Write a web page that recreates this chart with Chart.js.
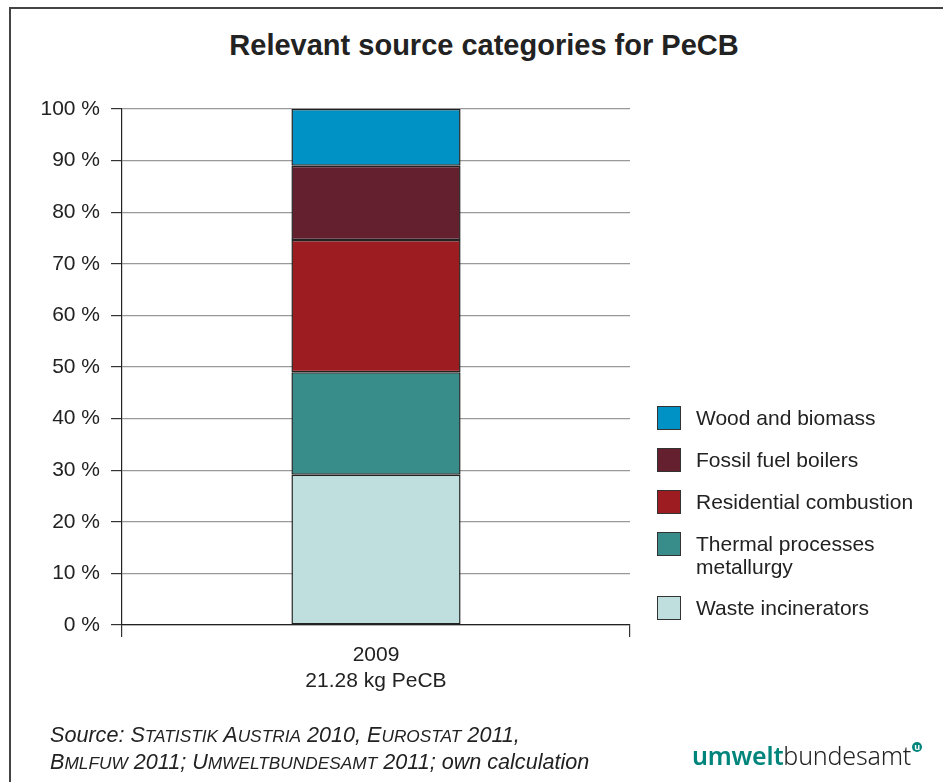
<!DOCTYPE html>
<html>
<head>
<meta charset="utf-8">
<title>Relevant source categories for PeCB</title>
<script src="https://cdn.jsdelivr.net/npm/chart.js"></script>
<style>
  html, body { margin: 0; padding: 0; background: #fff; }
  #wrap { position: relative; width: 943px; height: 782px; overflow: hidden; font-family: "Liberation Sans", Arial, sans-serif; color: #222; }
  #frame { position: absolute; left: 9px; top: 7px; width: 1200px; height: 1200px; border-left: 2px solid #444; border-top: 2px solid #444; }
  #title { position: absolute; left: 0; width: 968px; top: 29px; text-align: center; font-weight: bold; font-size: 29px; }
  canvas { position: absolute; left: 0; top: 0; }
  #legend { position: absolute; left: 657px; top: 406px; font-size: 21px; line-height: 23px; }
  .item { display: flex; align-items: flex-start; margin-bottom: 18px; }
  .box { width: 22px; height: 22px; border: 1px solid #333; margin-right: 15px; flex: none; }
  .txt { white-space: pre-line; }
  #source { position: absolute; left: 50px; top: 722px; font-size: 21.6px; line-height: 26px; font-style: italic; }
  #source small { font-size: 0.8em; }
  #logo { position: absolute; left: 692px; top: 738px; font-family: "Noto Sans", sans-serif; font-size: 25px; letter-spacing: -0.2px; }
  #logo .u1 { color: #00857c; font-weight: 600; }
  #logo .u2 { color: #222; font-weight: 300; }
  #logo .mark { display: inline-block; width: 10px; height: 10px; background: #00857c; border-radius: 50%; vertical-align: 15px; margin-left: 1px; color: #fff; font-size: 9px; line-height: 9px; text-align: center; font-weight: bold; }
</style>
</head>
<body>
<div id="wrap">
  <div id="frame"></div>
  <div id="title">Relevant source categories for PeCB</div>
  <canvas id="pecbChart" width="943" height="782"></canvas>
  <div id="legend"></div>
  <div id="source">Source: S<small>TATISTIK</small> A<small>USTRIA</small> 2010, E<small>UROSTAT</small> 2011,<br>B<small>MLFUW</small> 2011; U<small>MWELTBUNDESAMT</small> 2011; own calculation</div>
  <div id="logo"><span class="u1">umwelt</span><span class="u2">bundesamt</span><span class="mark">u</span></div>
</div>
<script>
// one stacked column, shares in percent (bottom to top)
const years = ['2009'];
const totalLabel = '21.28 kg PeCB';
const sources = ['Waste incinerators', 'Thermal processes\nmetallurgy', 'Residential combustion', 'Fossil fuel boilers', 'Wood and biomass'];
const shares = [29.1, 19.9, 25.6, 14.4, 11.0];
const colors = ['#bfdfdf', '#388c8a', '#9c1c21', '#65202f', '#0192c5'];
const yTicks = [0, 10, 20, 30, 40, 50, 60, 70, 80, 90, 100];

const datasets = sources.map((name, i) => ({
  label: name.replace('\n', ' '),
  data: [shares[i]],
  backgroundColor: colors[i],
  borderColor: '#222',
  borderWidth: 1.5,
  borderSkipped: false
}));

// legend lists top segment first
const legend = document.getElementById('legend');
for (let i = sources.length - 1; i >= 0; i--) {
  const row = document.createElement('div');
  row.className = 'item';
  row.innerHTML = '<div class="box" style="background:' + colors[i] + '"></div><div class="txt"></div>';
  row.querySelector('.txt').textContent = sources[i];
  legend.appendChild(row);
}

const ctx = document.getElementById('pecbChart').getContext('2d');
new Chart(ctx, {
  type: 'bar',
  data: {
    labels: years.map(y => [y, totalLabel]),
    datasets: datasets
  },
  options: {
    responsive: false,
    devicePixelRatio: 1,
    animation: false,
    layout: { padding: { left: 0, top: 109, right: 313, bottom: 49 } },
    datasets: { bar: { barPercentage: 1, categoryPercentage: 0.333 } },
    plugins: {
      legend: { display: false },
      tooltip: { enabled: false },
      title: { display: false }
    },
    scales: {
      x: {
        stacked: true,
        afterFit: scale => { scale.height = 108; },
        grid: { drawOnChartArea: false, tickLength: 12, color: '#333', lineWidth: 1.2 },
        border: { color: '#222', width: 1.2 },
        ticks: {
          color: '#222',
          padding: 6,
          font: { family: 'Liberation Sans', size: 21, lineHeight: 1.2 }
        }
      },
      y: {
        stacked: true,
        min: 0,
        max: 100,
        afterFit: scale => { scale.width = 122; },
        afterBuildTicks: scale => { scale.ticks = yTicks.map(v => ({ value: v })); },
        grid: { color: '#999', lineWidth: 1.2, tickLength: 11, tickColor: '#333' },
        border: { color: '#222', width: 1.2 },
        ticks: {
          color: '#222',
          padding: 11,
          font: { family: 'Liberation Sans', size: 21 },
          callback: v => v + ' %'
        }
      }
    }
  }
});
</script>
</body>
</html>
